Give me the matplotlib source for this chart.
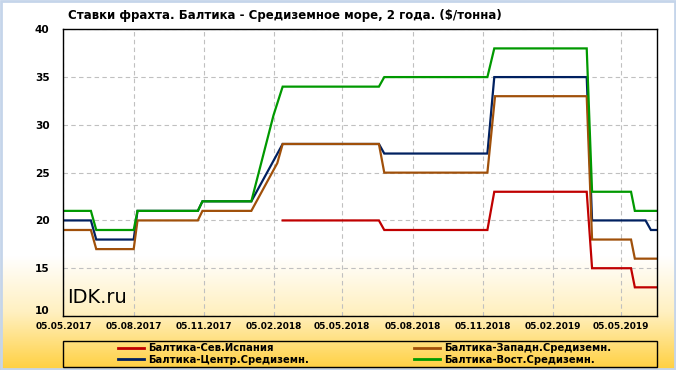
import numpy as np
import pandas as pd
import matplotlib
matplotlib.use("Agg")
import matplotlib.pyplot as plt
from matplotlib.colors import LinearSegmentedColormap

title = "Ставки фрахта. Балтика - Средиземное море, 2 года. ($/тонна)"
series_names = ["Балтика-Сев.Испания", "Балтика-Центр.Средиземн.",
                "Балтика-Западн.Средиземн.", "Балтика-Вост.Средиземн."]

red_dates = ["2018-02-16", "2018-06-22", "2018-06-29", "2018-11-11", "2018-11-20",
             "2019-03-21", "2019-03-28", "2019-05-18", "2019-05-23", "2019-06-21"]
red_vals = [20, 20, 19, 19, 23, 23, 15, 15, 13, 13]

blue_dates = ["2017-05-05", "2017-06-10", "2017-06-17", "2017-08-05", "2017-08-10",
              "2017-10-28", "2017-11-03", "2018-01-06", "2018-02-16", "2018-06-22",
              "2018-06-29", "2018-11-11", "2018-11-20", "2019-03-21", "2019-03-28",
              "2019-06-06", "2019-06-13", "2019-06-21"]
blue_vals = [20, 20, 18, 18, 21, 21, 22, 22, 28, 28, 27, 27, 35, 35, 20, 20, 19, 19]

brown_dates = ["2017-05-05", "2017-06-10", "2017-06-17", "2017-08-05", "2017-08-10",
               "2017-10-28", "2017-11-03", "2018-01-06", "2018-02-09", "2018-02-16",
               "2018-06-22", "2018-06-29", "2018-11-11", "2018-11-21", "2019-03-21",
               "2019-03-28", "2019-05-18", "2019-05-23", "2019-06-21"]
brown_vals = [19, 19, 17, 17, 20, 20, 21, 21, 26, 28, 28, 25, 25, 33, 33, 18, 18, 16, 16]

green_dates = ["2017-05-05", "2017-06-10", "2017-06-17", "2017-08-05", "2017-08-10",
               "2017-10-28", "2017-11-03", "2018-01-06", "2018-02-04", "2018-02-16",
               "2018-06-22", "2018-06-29", "2018-11-11", "2018-11-20", "2019-03-21",
               "2019-03-28", "2019-05-18", "2019-05-23", "2019-06-21"]
green_vals = [21, 21, 19, 19, 21, 21, 22, 22, 31, 34, 34, 35, 35, 38, 38, 23, 23, 21, 21]

x_ticks = ["2017-05-05", "2017-08-05", "2017-11-05", "2018-02-05", "2018-05-05",
           "2018-08-05", "2018-11-05", "2019-02-05", "2019-05-05"]
y_ticks = [10, 15, 20, 25, 30, 35, 40]

colors = ["#C00000", "#002060", "#A0500A", "#009900"]

W, H = 676, 370
fig = plt.figure(figsize=(W / 100, H / 100), dpi=100)

# background gradient
bg = fig.add_axes([0, 0, 1, 1], zorder=-10)
bg.set_axis_off()
grad = np.zeros((H, 1))
for i in range(H):
    t = (i - 255) / (H - 255)
    grad[i, 0] = min(max(t, 0), 1)
cmap = LinearSegmentedColormap.from_list("bgc", ["#FFFFFF", "#FFF0C0", "#FFD040"])
bg.imshow(grad, aspect="auto", cmap=cmap, extent=[0, 1, 0, 1], origin="upper")
bg.set_xlim(0, 1)
bg.set_ylim(0, 1)
bg.add_patch(plt.Rectangle((0.0015, 0.002), 0.997, 0.996, fill=False,
                           edgecolor="#C5D5EA", linewidth=2.0, transform=bg.transAxes))
# legend frame
bg.add_patch(plt.Rectangle((63.4 / W, 1 - 367 / H), (657 - 63.4) / W, 26 / H, fill=False,
                           edgecolor="black", linewidth=1.0, transform=bg.transAxes))

ax = fig.add_axes([63.4 / W, 1 - 316 / H, (657 - 63.4) / W, (316 - 29.3) / H])
ax.set_facecolor("none")

all_dates = [red_dates, blue_dates, brown_dates, green_dates]
all_vals = [red_vals, blue_vals, brown_vals, green_vals]
handles = []
for d, v, c, n in zip(all_dates, all_vals, colors, series_names):
    ln, = ax.plot(pd.to_datetime(d), v, color=c, linewidth=1.6, label=n,
                  solid_joinstyle="miter")
    handles.append(ln)

ax.set_xlim(pd.Timestamp("2017-05-05"), pd.Timestamp("2019-06-21"))
ax.set_ylim(10, 40)
ax.set_yticks(y_ticks)
ax.set_yticklabels([str(v) for v in y_ticks], fontsize=7.6, fontweight="bold")
xt = pd.to_datetime(x_ticks)
ax.set_xticks(xt)
ax.set_xticklabels([t.strftime("%d.%m.%Y") for t in xt], fontsize=6.5, fontweight="bold")
ax.tick_params(axis="both", length=0)
ax.tick_params(axis="y", pad=10)
ax.tick_params(axis="x", pad=4)
ax.grid(True, color="#C0C0C0", linestyle=(0, (4, 3)), linewidth=0.8)
for s in ax.spines.values():
    s.set_color("black")
    s.set_linewidth(1.0)

# lift the lowest y label slightly so it does not collide with the first date
ax.get_yticklabels()[0].set_va("bottom")

ax.text(0.007, 0.03, "IDK.ru", transform=ax.transAxes, fontsize=14, color="black",
        ha="left", va="bottom")

fig.text(68 / W, 1 - 16 / H, title, fontsize=8.5, fontweight="bold",
         ha="left", va="center")

legend_cols = [(handles[0:2], 118), (handles[2:4], 414)]
for hs, xpx in legend_cols:
    lg = fig.legend(handles=hs, labels=[h.get_label() for h in hs], loc="center left",
                    bbox_to_anchor=(xpx / W, 1 - 354 / H), frameon=False,
                    prop={"weight": "bold", "size": 7.2}, borderpad=0,
                    labelspacing=0.15, handlelength=2.6, handletextpad=0.4,
                    borderaxespad=0)
    for ln in lg.get_lines():
        ln.set_linewidth(2)

fig.savefig("out.png", dpi=100)
